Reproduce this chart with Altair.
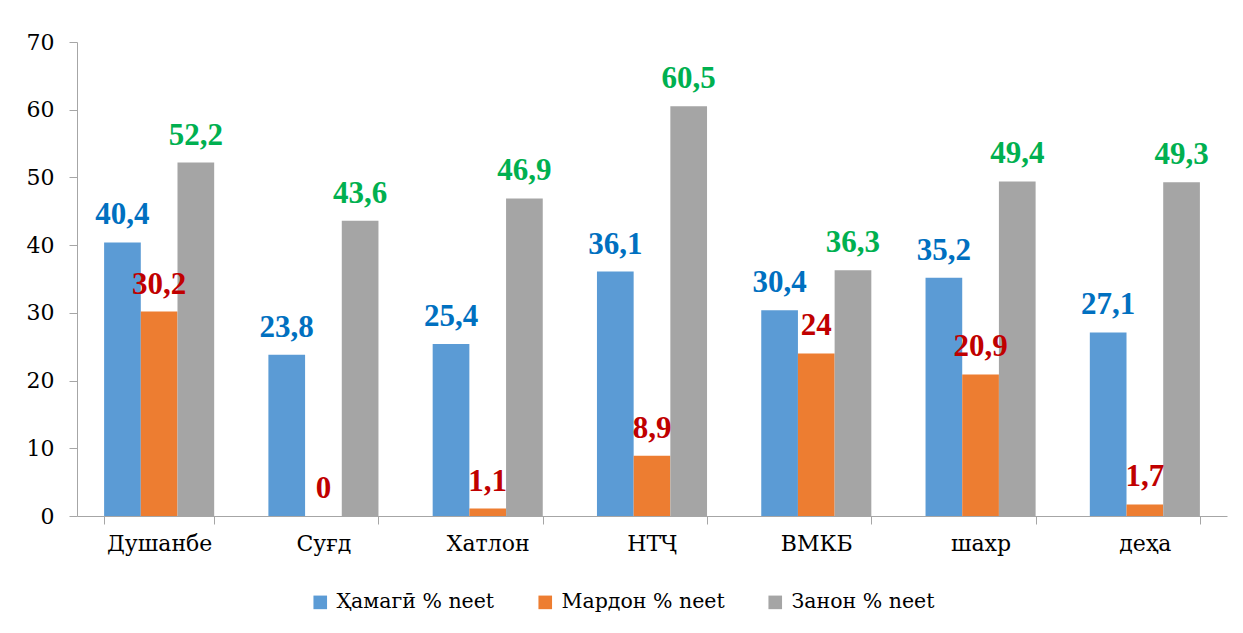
import altair as alt
import pandas as pd

categories = ["Душанбе", "Суғд", "Хатлон", "НТҶ", "ВМКБ", "шахр", "деҳа"]
series = ["Ҳамагӣ % neet", "Мардон % neet", "Занон % neet"]
total = [40.4, 23.8, 25.4, 36.1, 30.4, 35.2, 27.1]
men = [30.2, 0, 1.1, 8.9, 24, 20.9, 1.7]
women = [52.2, 43.6, 46.9, 60.5, 36.3, 49.4, 49.3]

bar_colors = ["#5B9BD5", "#ED7D31", "#A5A5A5"]
label_colors = ["#0070C0", "#C00000", "#00B050"]

rows = []
for s, vals in zip(series, [total, men, women]):
    for c, v in zip(categories, vals):
        rows.append({"region": c, "series": s, "value": v})
df = pd.DataFrame(rows)

REG_FONT = "DejaVu Serif"
BOLD_FONT = "Liberation Serif"

base = alt.Chart(df).encode(
    x=alt.X(
        "region:N",
        sort=categories,
        title=None,
        scale=alt.Scale(paddingInner=0.33, paddingOuter=0.165),
        axis=alt.Axis(
            labelAngle=0,
            labelPadding=9,
            tickBand="extent",
            tickSize=8,
            labelFont=REG_FONT,
            labelFontSize=22,
        ),
    ),
    xOffset=alt.XOffset("series:N", sort=series),
    y=alt.Y(
        "value:Q",
        title=None,
        scale=alt.Scale(domain=[0, 70], nice=False),
        axis=alt.Axis(
            values=[0, 10, 20, 30, 40, 50, 60, 70],
            grid=False,
            labelPadding=15,
            tickSize=8,
            labelFont=REG_FONT,
            labelFontSize=22,
        ),
    ),
)

bars = base.mark_bar().encode(
    color=alt.Color(
        "series:N",
        sort=series,
        scale=alt.Scale(domain=series, range=bar_colors),
        legend=alt.Legend(
            title=None,
            orient="none",
            direction="horizontal",
            legendX=233,
            legendY=550,
            symbolType="square",
            symbolSize=185,
            symbolStrokeWidth=0,
            labelOffset=6,
            columnPadding=40,
            labelLimit=400,
            labelFont=REG_FONT,
            labelFontSize=20.5,
        ),
    )
)

labels = base.mark_text(
    font=BOLD_FONT, fontSize=31, fontWeight="bold", baseline="alphabetic", dy=-18
).transform_calculate(
    label="replace(toString(datum.value), '.', ',')"
).encode(
    text="label:N",
    color=alt.Color(
        "series:N",
        sort=series,
        scale=alt.Scale(domain=series, range=label_colors),
        legend=None,
    ),
)

chart = (
    alt.layer(bars, labels)
    .resolve_scale(color="independent")
    .properties(
        width=1150,
        height=474,
        autosize=alt.AutoSizeParams(type="none"),
        padding={"left": 69, "top": 34, "right": 8, "bottom": 100},
    )
    .configure_view(stroke=None)
    .configure_axis(
        labelColor="#000000",
        tickColor="#A6A6A6",
        domainColor="#A6A6A6",
    )
    .configure_legend(
        labelColor="#000000",
    )
)

chart.save("out.html", embed_options={"renderer": "svg", "actions": False})
